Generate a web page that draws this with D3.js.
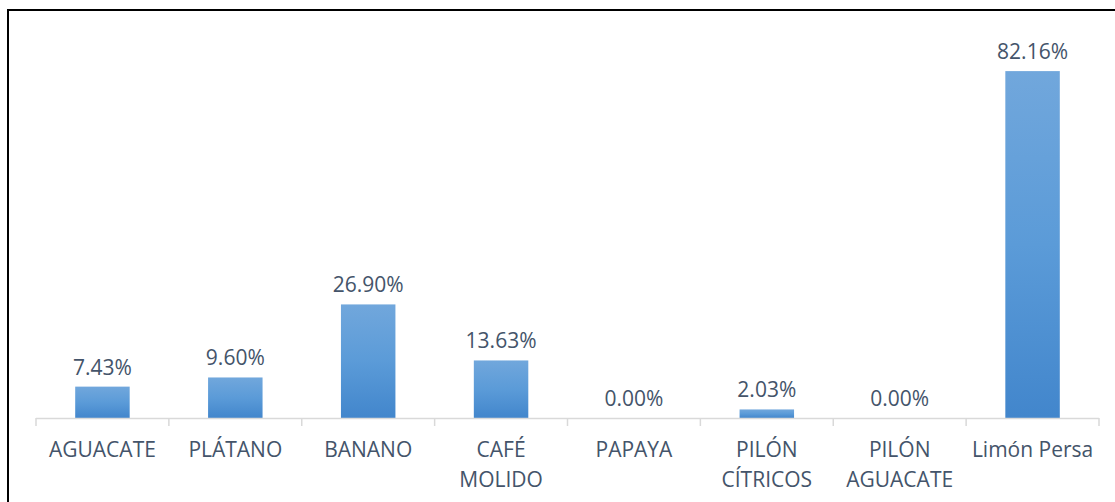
<!DOCTYPE html>
<html>
<head>
<meta charset="utf-8">
<script src="https://cdn.jsdelivr.net/npm/d3@7"></script>
<style>
  body { margin: 0; background: #fff; }
  svg { display: block; }
</style>
</head>
<body>
<svg id="chart"></svg>
<script>
const categories = [
  ['AGUACATE'], ['PLÁTANO'], ['BANANO'], ['CAFÉ', 'MOLIDO'],
  ['PAPAYA'], ['PILÓN', 'CÍTRICOS'], ['PILÓN', 'AGUACATE'], ['Limón Persa'],
]
const values = [7.43, 9.6, 26.9, 13.63, 0, 2.03, 0, 82.16]

const width = 1115
const height = 502
const textColor = '#44546a'
const font = '"Open Sans", sans-serif'

const svg = d3.select('#chart').attr('width', width).attr('height', height)

// frame
svg.append('rect')
  .attr('x', 8).attr('y', 10)
  .attr('width', width + 10).attr('height', height + 10)
  .attr('fill', 'none').attr('stroke', '#000').attr('stroke-width', 2)

const data = categories.map((c, i) => ({ id: i, lines: c, value: values[i] }))

const x = d3.scaleBand()
  .domain(data.map((d) => d.id))
  .range([36, 1099])
  .paddingInner(0.59)
  .paddingOuter(0.295)

const y = d3.scaleLinear().domain([0, 90]).range([418, 38])

// gradient fill
const grad = svg.append('defs').append('linearGradient')
  .attr('id', 'barGrad').attr('x1', 0).attr('y1', 0).attr('x2', 0).attr('y2', 1)
grad.append('stop').attr('offset', '0%').attr('stop-color', '#71a7dc')
grad.append('stop').attr('offset', '50%').attr('stop-color', '#5b9bd8')
grad.append('stop').attr('offset', '100%').attr('stop-color', '#4286cc')

// bars
svg.append('g')
  .selectAll('rect')
  .data(data.filter((d) => d.value > 0))
  .join('rect')
  .attr('x', (d) => x(d.id))
  .attr('y', (d) => y(d.value))
  .attr('width', x.bandwidth())
  .attr('height', (d) => y(0) - y(d.value))
  .attr('fill', 'url(#barGrad)')

// axis line with ticks at category boundaries
const step = x.step()
const bounds = d3.range(data.length + 1).map((i) => 36 + i * step)
const axis = svg.append('g').attr('stroke', '#d9d9d9').attr('stroke-width', 1.5)
axis.append('line')
  .attr('x1', 36).attr('x2', 1099)
  .attr('y1', y(0) + 0.5).attr('y2', y(0) + 0.5)
axis.selectAll('.tick')
  .data(bounds)
  .join('line')
  .attr('class', 'tick')
  .attr('x1', (d) => d).attr('x2', (d) => d)
  .attr('y1', y(0)).attr('y2', y(0) + 8)

// value labels
svg.append('g')
  .selectAll('text')
  .data(data)
  .join('text')
  .attr('x', (d) => x(d.id) + x.bandwidth() / 2)
  .attr('y', (d) => y(d.value) - 12)
  .attr('text-anchor', 'middle')
  .attr('fill', textColor)
  .style('font-family', font)
  .style('font-size', '21px')
  .text((d) => d.value.toFixed(2) + '%')

// category labels
const cat = svg.append('g')
  .selectAll('text')
  .data(data)
  .join('text')
  .attr('text-anchor', 'middle')
  .attr('fill', textColor)
  .style('font-family', font)
  .style('font-size', '21px')

cat.selectAll('tspan')
  .data((d) => d.lines.map((l) => ({ l, cx: x(d.id) + x.bandwidth() / 2 })))
  .join('tspan')
  .attr('x', (d) => d.cx)
  .attr('y', (d, i) => 457 + i * 30)
  .text((d) => d.l)
</script>
</body>
</html>
